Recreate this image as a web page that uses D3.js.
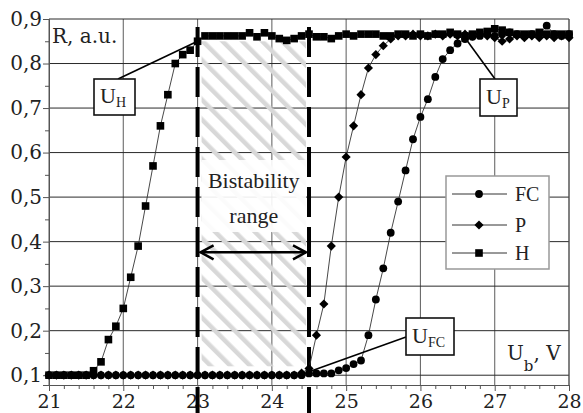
<!DOCTYPE html>
<html><head><meta charset="utf-8">
<script src="https://cdn.jsdelivr.net/npm/d3@7"></script>
<style>body{margin:0;background:#fff}svg{display:block}</style>
</head><body><svg id="c" width="583" height="413"></svg>
<script>
// ---- data ----
const voltage = [21.0,21.1,21.2,21.3,21.4,21.5,21.6,21.7,21.8,21.9,
  22.0,22.1,22.2,22.3,22.4,22.5,22.6,22.7,22.8,22.9,
  23.0,23.1,23.2,23.3,23.4,23.5,23.6,23.7,23.8,23.9,
  24.0,24.1,24.2,24.3,24.4,24.5,24.6,24.7,24.8,24.9,
  25.0,25.1,25.2,25.3,25.4,25.5,25.6,25.7,25.8,25.9,
  26.0,26.1,26.2,26.3,26.4,26.5,26.6,26.7,26.8,26.9,
  27.0,27.1,27.2,27.3,27.4,27.5,27.6,27.7,27.8,27.9,28.0];
const fcValues = [0.1,0.1,0.1,0.1,0.1,0.1,0.1,0.1,0.1,0.1,
  0.1,0.1,0.1,0.1,0.1,0.1,0.1,0.1,0.1,0.1,
  0.1,0.1,0.1,0.1,0.1,0.1,0.1,0.1,0.1,0.1,
  0.1,0.1,0.1,0.1,0.1,0.104,0.104,0.104,0.104,0.111,
  0.116,0.125,0.133,0.19,0.27,0.34,0.42,0.49,0.56,0.63,
  0.68,0.72,0.77,0.81,0.83,0.845,0.855,0.86,0.862,0.866,
  0.862,0.866,0.87,0.866,0.862,0.866,0.866,0.885,0.866,0.862,0.866];
const pValues = [0.1,0.1,0.1,0.1,0.1,0.1,0.1,0.1,0.1,0.1,
  0.1,0.1,0.1,0.1,0.1,0.1,0.1,0.1,0.1,0.1,
  0.1,0.1,0.1,0.1,0.1,0.1,0.1,0.1,0.1,0.1,
  0.1,0.1,0.1,0.1,0.105,0.115,0.19,0.26,0.39,0.50,
  0.59,0.66,0.73,0.79,0.82,0.84,0.855,0.862,0.862,0.866,
  0.862,0.862,0.866,0.862,0.866,0.862,0.866,0.862,0.866,0.862,
  0.858,0.85,0.855,0.862,0.858,0.862,0.858,0.862,0.858,0.862,0.858];
const hValues = [0.1,0.1,0.1,0.1,0.1,0.1,0.11,0.13,0.18,0.21,
  0.25,0.32,0.39,0.48,0.57,0.66,0.73,0.80,0.82,0.83,
  0.85,0.862,0.862,0.862,0.862,0.862,0.862,0.869,0.86,0.869,
  0.862,0.856,0.852,0.856,0.862,0.866,0.86,0.86,0.856,0.862,
  0.866,0.862,0.866,0.866,0.866,0.862,0.862,0.866,0.866,0.862,
  0.866,0.862,0.866,0.866,0.87,0.866,0.862,0.866,0.87,0.872,
  0.878,0.875,0.87,0.866,0.866,0.866,0.87,0.866,0.866,0.866,0.866];
const seriesNames = ["FC","P","H"];
const xTicks = [21,22,23,24,25,26,27,28];
const yTicks = [0.1,0.2,0.3,0.4,0.5,0.6,0.7,0.8,0.9];
const bistability = [23, 24.5];

// ---- setup ----
const svg = d3.select("#c");
const W = 583, H = 413;
const x = d3.scaleLinear().domain([21, 28]).range([49, 569]);
const y = d3.scaleLinear().domain([0.078, 0.9]).range([385, 19]);
const serif = "'Liberation Serif', 'Times New Roman', serif";
const tickFont = "'DejaVu Serif', serif";

const defs = svg.append("defs");
const pat = defs.append("pattern").attr("id","hatch").attr("patternUnits","userSpaceOnUse")
  .attr("width",14).attr("height",14).attr("patternTransform","rotate(-45)");
pat.append("rect").attr("x",0).attr("y",0).attr("width",4.5).attr("height",14).attr("fill","#d8d8d8");

// gridlines
const grid = svg.append("g");
grid.selectAll("line.v").data(xTicks).join("line")
  .attr("x1", d => x(d)).attr("x2", d => x(d)).attr("y1", y(0.9)).attr("y2", y.range()[0])
  .attr("stroke", "#6a6a6a").attr("stroke-width", 1.1);
grid.selectAll("line.h").data(yTicks).join("line")
  .attr("x1", x(21)).attr("x2", x(28)).attr("y1", d => y(d)).attr("y2", d => y(d))
  .attr("stroke", "#2a2a2a").attr("stroke-width", 1);

// axes
const xAxisG = svg.append("g").attr("transform", `translate(0,${y.range()[0]})`)
  .call(d3.axisBottom(x).tickValues(xTicks).tickSize(6).tickPadding(8).tickFormat(d3.format("d")));
svg.append("g").attr("transform", `translate(0,${y.range()[0]})`)
  .call(d3.axisBottom(x).tickValues(x.ticks(35).filter(v => Math.abs(v - Math.round(v)) > 1e-6)).tickSize(4).tickFormat(""))
  .call(g => g.select(".domain").remove());
const yAxisG = svg.append("g").attr("transform", `translate(${x(21)},0)`)
  .call(d3.axisLeft(y).tickValues(yTicks).tickSize(6).tickPadding(1)
    .tickFormat(d => d3.format(".1f")(d).replace(".", ",")));
svg.append("g").attr("transform", `translate(${x(21)},0)`)
  .call(d3.axisLeft(y).tickValues([0.15,0.25,0.35,0.45,0.55,0.65,0.75,0.85]).tickSize(4).tickFormat(""))
  .call(g => g.select(".domain").remove());
svg.selectAll(".domain, .tick line").attr("stroke", "#555");
svg.selectAll(".tick text").attr("font-family", tickFont).attr("font-size", 20).attr("fill", "#222");
xAxisG.selectAll(".tick text").attr("dy", null).attr("y", 23).attr("font-size", 19);
// right frame
svg.append("line").attr("x1", x(28)).attr("x2", x(28)).attr("y1", y(0.9)).attr("y2", y.range()[0])
  .attr("stroke", "#555");

// bistability hatched area
const hx0 = x(bistability[0]) + 4, hx1 = x(bistability[1]) - 3;
svg.append("rect").attr("x", hx0).attr("y", y(0.85)).attr("width", hx1 - hx0)
  .attr("height", y(0.12) - y(0.85)).attr("fill", "url(#hatch)");
svg.append("rect").attr("x", hx0).attr("y", 160).attr("width", hx1 - hx0).attr("height", 72)
  .attr("fill", "#fff").attr("opacity", 0.9);
svg.append("text").attr("x", (hx0 + hx1) / 2).attr("y", 188).attr("text-anchor", "middle")
  .attr("font-family", serif).attr("font-size", 22).attr("fill", "#222").text("Bistability");
svg.append("text").attr("x", (hx0 + hx1) / 2).attr("y", 223).attr("text-anchor", "middle")
  .attr("font-family", serif).attr("font-size", 22).attr("fill", "#222").text("range");

// dashed boundary lines
svg.selectAll("line.dash").data(bistability).join("line")
  .attr("x1", d => x(d)).attr("x2", d => x(d)).attr("y1", 27).attr("y2", H)
  .attr("stroke", "#000").attr("stroke-width", 4).attr("stroke-dasharray", "30,10");

// double arrow
const ay = y(0.376), ax0 = x(bistability[0]) + 3, ax1 = x(bistability[1]) - 3;
svg.append("line").attr("x1", ax0).attr("x2", ax1).attr("y1", ay).attr("y2", ay)
  .attr("stroke", "#000").attr("stroke-width", 2.5);
svg.append("path").attr("d", `M${ax0 + 13},${ay - 7} L${ax0},${ay} L${ax0 + 13},${ay + 7}`)
  .attr("fill", "none").attr("stroke", "#000").attr("stroke-width", 2.5);
svg.append("path").attr("d", `M${ax1 - 13},${ay - 7} L${ax1},${ay} L${ax1 - 13},${ay + 7}`)
  .attr("fill", "none").attr("stroke", "#000").attr("stroke-width", 2.5);

// series
const series = [
  {name: seriesNames[0], values: fcValues, sym: d3.symbolCircle, size: 48, rot: 0},
  {name: seriesNames[2], values: hValues, sym: d3.symbolSquare, size: 58, rot: 0},
  {name: seriesNames[1], values: pValues, sym: d3.symbolSquare, size: 42, rot: 45}
];
const line = d3.line().x(d => x(d[0])).y(d => y(d[1]));
series.forEach(s => {
  const pts = voltage.map((v, i) => [v, s.values[i]]);
  svg.append("path").datum(pts).attr("d", line).attr("fill", "none")
    .attr("stroke", "#333").attr("stroke-width", 0.9);
  svg.append("g").selectAll("path").data(pts).join("path")
    .attr("d", d3.symbol(s.sym, s.size))
    .attr("transform", d => `translate(${x(d[0])},${y(d[1])}) rotate(${s.rot})`)
    .attr("fill", "#000");
});

// callouts
function callout(bx, by, bw, bh, main, sub, lx1, ly1, px, py) {
  svg.append("line").attr("x1", lx1).attr("y1", ly1).attr("x2", x(px)).attr("y2", y(py))
    .attr("stroke", "#000").attr("stroke-width", 1.6);
  svg.append("rect").attr("x", bx).attr("y", by).attr("width", bw).attr("height", bh)
    .attr("fill", "#fff").attr("stroke", "#111").attr("stroke-width", 1.6);
  const t = svg.append("text").attr("x", bx + 6).attr("y", by + bh - 12)
    .attr("font-family", serif).attr("font-size", 22).attr("fill", "#222");
  t.append("tspan").text(main);
  t.append("tspan").attr("font-size", 14).attr("dy", 4).text(sub);
}
callout(94, 79, 41, 36, "U", "H", 118, 79, 23.0, 0.85);
callout(480, 79, 37, 37, "U", "P", 495, 79, 26.6, 0.858);
callout(406, 318, 48, 37, "U", "FC", 406, 337, 24.5, 0.108);

// axis titles
svg.append("text").attr("x", 52).attr("y", 43).attr("font-family", tickFont)
  .attr("font-size", 20).attr("fill", "#222").text("R, a.u.");
const ub = svg.append("text").attr("x", 507).attr("y", 360).attr("font-family", tickFont)
  .attr("font-size", 20).attr("fill", "#222");
ub.append("tspan").text("U");
ub.append("tspan").attr("font-size", 15).attr("dy", 11).text("b");
ub.append("tspan").attr("dy", -11).text(", V");

// legend
const lg = svg.append("g");
lg.append("rect").attr("x", 446).attr("y", 176).attr("width", 103).attr("height", 93)
  .attr("fill", "#fff").attr("stroke", "#999").attr("stroke-width", 1.5);
const legendItems = [
  {name: seriesNames[0], sym: d3.symbolCircle, size: 48, rot: 0, yy: 194},
  {name: seriesNames[1], sym: d3.symbolSquare, size: 42, rot: 45, yy: 225},
  {name: seriesNames[2], sym: d3.symbolSquare, size: 58, rot: 0, yy: 253}
];
legendItems.forEach(it => {
  lg.append("line").attr("x1", 452).attr("x2", 507).attr("y1", it.yy).attr("y2", it.yy)
    .attr("stroke", "#333").attr("stroke-width", 1);
  lg.append("path").attr("d", d3.symbol(it.sym, it.size)())
    .attr("transform", `translate(479,${it.yy}) rotate(${it.rot})`).attr("fill", "#000");
  lg.append("text").attr("x", 515).attr("y", it.yy + 7).attr("font-family", serif)
    .attr("font-size", 20).attr("fill", "#222").text(it.name);
});
</script>
</body></html>
